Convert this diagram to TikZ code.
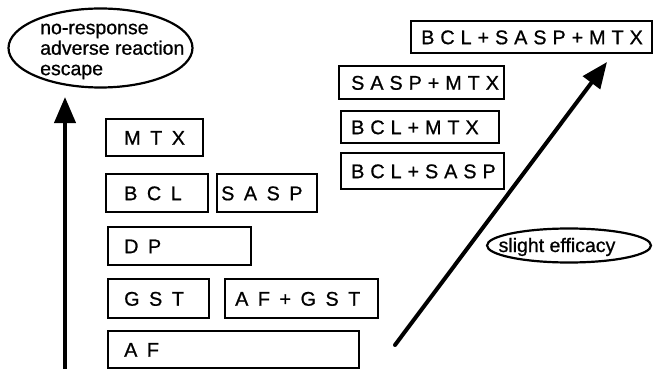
\documentclass[tikz,border=0pt]{standalone}
\usepackage{fontspec}
\setmainfont[FakeBold=0.8]{Liberation Sans}
\newfontfamily\plainf[FakeBold=0.8]{Liberation Sans}
\newfontfamily\wideA[LetterSpace=48,FakeBold=0.8]{Liberation Sans}
\newfontfamily\wideB[LetterSpace=30,FakeBold=0.8]{Liberation Sans}
\usetikzlibrary{arrows.meta,shapes.geometric}
\begin{document}
\begin{tikzpicture}[x=1pt,y=-1pt,
  box/.style={draw, line width=2.4pt, rectangle, anchor=north west, align=left,
    text height=14pt, text depth=0pt, inner ysep=0pt},
  boxA/.style={box, font=\wideA\fontsize{19.8}{21}\selectfont},
  boxB/.style={box, font=\wideB\fontsize{19.8}{21}\selectfont},
  oval/.style={draw, ellipse, line width=2.2pt, inner sep=0pt},
  lbl/.style={font=\plainf\fontsize{19.5}{20.5}\selectfont, inner sep=0pt},
  arr/.style={line width=4pt, -{Triangle[width=21pt,length=26pt]}}
]
\useasboundingbox (0,0) rectangle (653,369);
% left boxes
\node[boxA, minimum width=97pt, minimum height=37pt, inner xsep=18pt, text width=61pt] (mtx) at (105,118) {MTX};
\node[boxA, minimum width=102pt, minimum height=38pt, inner xsep=18pt, text width=66pt] (bcl) at (105,173) {BCL};
\node[boxA, minimum width=100pt, minimum height=38pt, inner xsep=4pt, text width=92pt] (sasp) at (216,173) {SASP};
\node[boxA, minimum width=143pt, minimum height=38pt, inner xsep=16pt, text width=111pt] (dp) at (107,226) {DP};
\node[boxA, minimum width=101pt, minimum height=39pt, inner xsep=16pt, text width=69pt] (gst) at (107,278) {GST};
\node[boxA, minimum width=153pt, minimum height=39pt, inner xsep=10pt, text width=133pt] (afgst) at (224,278) {AF+GST};
\node[boxA, minimum width=251pt, minimum height=37pt, inner xsep=16pt, text width=219pt] (af) at (107,330) {AF};
% right boxes
\node[boxB, minimum width=241pt, minimum height=32pt, inner xsep=10pt, text width=221pt] (all) at (410,20) {BCL+SASP+MTX};
\node[boxB, minimum width=165pt, minimum height=33pt, inner xsep=12pt, text width=141pt] (saspmtx) at (338,65) {SASP+MTX};
\node[boxB, minimum width=158pt, minimum height=32pt, inner xsep=10pt, text width=138pt] (bclmtx) at (340,110) {BCL+MTX};
\node[boxB, minimum width=163pt, minimum height=36pt, inner xsep=10pt, text width=143pt] (bclsasp) at (340,152) {BCL+SASP};
% ellipses
\node[oval, minimum width=184pt, minimum height=79pt] (bad) at (100.5,48) {};
\node[lbl, align=left, anchor=north west] (badtext) at (40,23.5) {no-response\\adverse reaction\\escape};
\node[oval, minimum width=164pt, minimum height=34pt] (slight) at (569,245.5) {};
\node[lbl, anchor=base] (slighttext) at (557,252) {slight efficacy};
% arrows
\coordinate (vb) at (65,372);
\coordinate (vt) at (65,97);
\coordinate (db) at (395,345);
\coordinate (dt) at (607,62);
\draw[arr] (vb) -- (vt);
\draw[arr, line cap=round] (db) -- (dt);
\end{tikzpicture}
\end{document}
